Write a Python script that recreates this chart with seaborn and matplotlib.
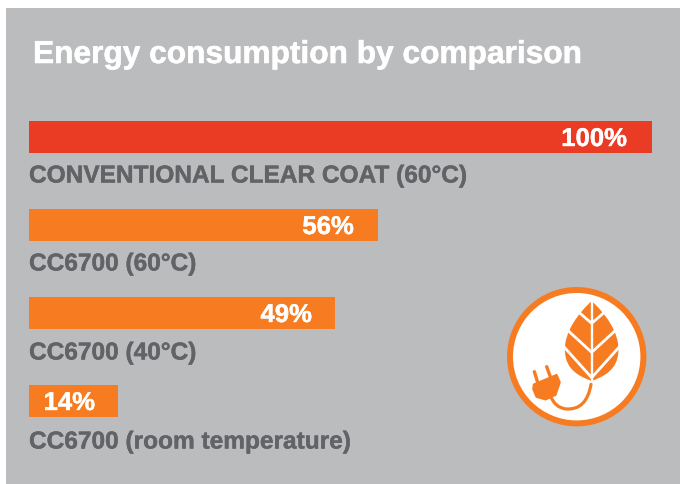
import matplotlib
matplotlib.use("Agg")
import matplotlib.pyplot as plt
import matplotlib.patheffects as pe
from matplotlib.patches import Circle, PathPatch, Rectangle, Polygon
from matplotlib.path import Path
import pandas as pd
import seaborn as sns

labels = ["CONVENTIONAL CLEAR COAT (60°C)", "CC6700 (60°C)", "CC6700 (40°C)", "CC6700 (room temperature)"]
values = [100, 56, 49.1, 14.3]
pct_labels = ["100%", "56%", "49%", "14%"]
bar_colors = ["#EA3B24", "#F77B20", "#F77B20", "#F77B20"]
title = "Energy consumption by comparison"

W, H = 680, 484
GRAY = "#BBBCBE"
TXT = "#616366"
ORANGE = "#F77B20"
sns.set_theme(style="white")
plt.rcParams["font.family"] = ["Liberation Sans", "DejaVu Sans"]

fig = plt.figure(figsize=(W / 100, H / 100), dpi=100, facecolor="white")

bg = fig.add_axes([0, 0, 1, 1], zorder=0)
bg.set_xlim(0, W); bg.set_ylim(H, 0); bg.axis("off")
bg.add_patch(Rectangle((6, 8), 674, 476, fc=GRAY, ec="none"))

ax = fig.add_axes([29 / W, 1 - 445 / H, 623 / W, 352 / H], zorder=1)
ax.patch.set_alpha(0)
df = pd.DataFrame({"label": labels, "value": values})
sns.barplot(data=df, x="value", y="label", hue="label", palette=bar_colors, legend=False,
            width=32 / 88, ax=ax, saturation=1, orient="h", linewidth=0, edgecolor="none")
ax.set_xlim(0, 100)
ax.set_ylim(3.5, -0.5)
ax.axis("off")


def heavier(color, w):
    return [pe.withStroke(linewidth=w, foreground=color)]


pct_right_offset = [25, 24, 23, 23]
label_offset = [-39, -39, -40, -41]
for i, (lab, v, p) in enumerate(zip(labels, values, pct_labels)):
    ax.annotate(p, xy=(v, i), xytext=(-pct_right_offset[i], -2), textcoords="offset pixels",
                ha="right", va="center", color="white", fontsize=18.5, fontweight="bold",
                path_effects=heavier("white", 0.3))
    ax.annotate(lab, xy=(0, i), xytext=(0, label_offset[i]), textcoords="offset pixels",
                ha="left", va="center", color=TXT, fontsize=17.6, fontweight="bold",
                path_effects=heavier(TXT, 0.3))

fig.text(33 / W, 1 - 55 / H, title, color="white", fontsize=22.8, fontweight="bold", ha="left", va="center",
         path_effects=heavier("white", 0.4))

ic = fig.add_axes([0, 0, 1, 1], zorder=2)
ic.set_xlim(0, W); ic.set_ylim(H, 0); ic.axis("off"); ic.patch.set_alpha(0)
ic.add_patch(Circle((576.7, 356.7), 66.7, fc="white", ec=ORANGE, lw=4.3))


def z(X, Y):
    return (525 + X / 3, 295 + Y / 3)


leaf = [z(200, 18), z(235, 50), z(285, 110), z(280, 170), z(278, 225), z(235, 245), z(200, 258),
        z(165, 245), z(122, 225), z(120, 170), z(115, 110), z(165, 50), z(200, 18)]
ic.add_patch(PathPatch(Path(leaf, [Path.MOVETO] + [Path.CURVE4] * 12), fc=ORANGE, ec="none"))
stem = [z(200, 8), z(200, 262)]
ic.plot(*zip(*stem), color="white", lw=1.7, solid_capstyle="butt")
for (x0, y0), (x1, y1) in [((200, 85), (155, 46)), ((200, 172), (125, 103)), ((200, 248), (112, 150))]:
    a = z(x0, y0)
    b = z(x1, y1)
    c = z(400 - x1, y1)
    ic.plot([a[0], b[0]], [a[1], b[1]], color="white", lw=2.0, solid_capstyle="butt")
    ic.plot([a[0], c[0]], [a[1], c[1]], color="white", lw=2.0, solid_capstyle="butt")

cord = Path([z(198, 268), z(185, 345), z(125, 342), z(90, 340), z(75, 300)],
            [Path.MOVETO, Path.CURVE3, Path.CURVE3, Path.CURVE3, Path.CURVE3])
ic.add_patch(PathPatch(cord, fc="none", ec=ORANGE, lw=2.3, capstyle="round"))
ic.add_patch(Polygon([z(26, 268), z(95, 239), z(105, 262), z(92, 300), z(62, 314), z(34, 306), z(24, 282)],
                     closed=True, fc=ORANGE, ec=ORANGE, lw=1.2, joinstyle="round"))
for p, q in [(z(28, 230), z(38, 262)), (z(65, 215), z(77, 248))]:
    ic.plot([p[0], q[0]], [p[1], q[1]], color=ORANGE, lw=2.4, solid_capstyle="round")

fig.savefig("out.png", dpi=100, facecolor="white")
